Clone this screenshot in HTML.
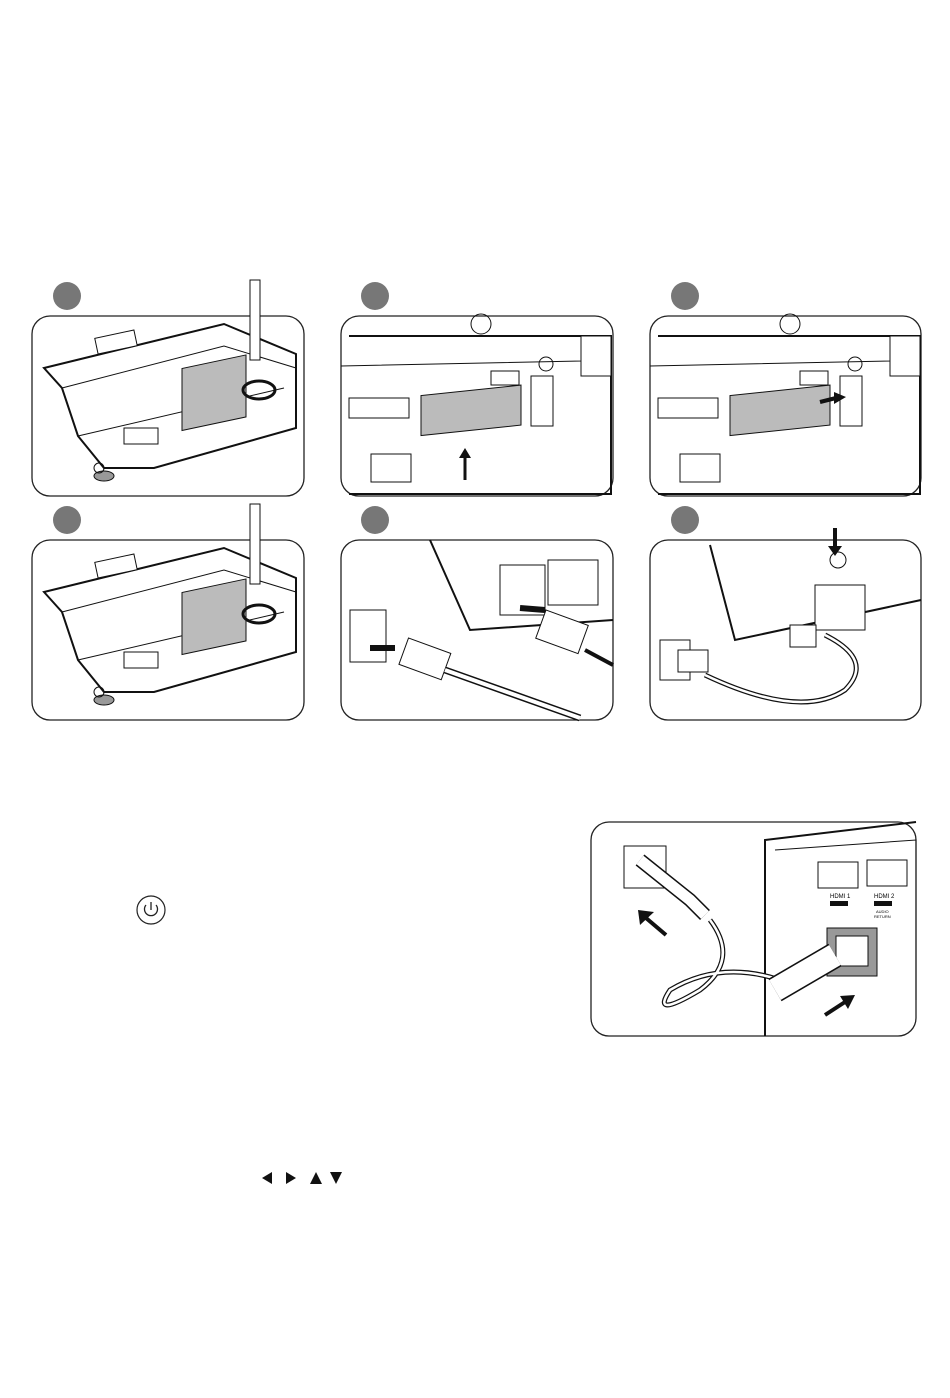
<!DOCTYPE html>
<html><head><style>body{margin:0;background:#fff}svg{display:block}</style></head><body>
<svg width="950" height="1398" viewBox="0 0 950 1398" xmlns="http://www.w3.org/2000/svg" font-family="Liberation Sans, sans-serif">
<defs>
<g id="proj1">
 <path d="M10 50 L190 6 L262 36 L262 110 L120 150 L70 150 L44 118 L28 70 Z" fill="#fff" stroke="#111" stroke-width="2"/>
 <path d="M28 70 L190 28 L262 50" fill="none" stroke="#111" stroke-width="1"/>
 <path d="M44 118 L250 70" fill="none" stroke="#111" stroke-width="1"/>
 <rect x="62" y="16" width="40" height="16" fill="#fff" stroke="#111" transform="rotate(-12 82 24)"/>
 <circle cx="200" cy="50" r="7" fill="none" stroke="#111"/>
 <rect x="90" y="110" width="34" height="16" fill="none" stroke="#111"/>
 <rect x="148" y="82" width="64" height="62" fill="#bbb" stroke="#111" transform="skewY(-12)"/>
 <ellipse cx="225" cy="72" rx="16" ry="9" fill="none" stroke="#111" stroke-width="3"/>
 <ellipse cx="70" cy="158" rx="10" ry="5" fill="#999" stroke="#111"/>
 <circle cx="65" cy="150" r="5" fill="none" stroke="#111"/>
</g>
<g id="proj2">
 <path d="M8 20 L270 20 L270 178 L8 178" fill="none" stroke="#111" stroke-width="2"/>
 <path d="M0 50 L240 45 L255 30" fill="none" stroke="#111"/>
 <rect x="8" y="82" width="60" height="20" fill="none" stroke="#111"/>
 <rect x="150" y="55" width="28" height="14" fill="none" stroke="#111"/>
 <circle cx="205" cy="48" r="7" fill="none" stroke="#111"/>
 <circle cx="140" cy="8" r="10" fill="none" stroke="#111"/>
 <rect x="80" y="88" width="100" height="40" fill="#bbb" stroke="#111" transform="skewY(-6)"/>
 <rect x="190" y="60" width="22" height="50" fill="#fff" stroke="#111"/>
 <rect x="30" y="138" width="40" height="28" fill="none" stroke="#111"/>
 <rect x="240" y="20" width="30" height="40" fill="#fff" stroke="#111"/>
</g>
</defs>

<g fill="#777"><circle cx="67" cy="296" r="14"/><circle cx="375" cy="296" r="14"/><circle cx="685" cy="296" r="14"/>
<circle cx="67" cy="520" r="14"/><circle cx="375" cy="520" r="14"/><circle cx="685" cy="520" r="14"/></g>

<g fill="#fff" stroke="#222" stroke-width="1.3">
<rect x="32" y="316" width="272" height="180" rx="18"/>
<rect x="341" y="316" width="272" height="180" rx="18"/>
<rect x="650" y="316" width="271" height="180" rx="18"/>
<rect x="32" y="540" width="272" height="180" rx="18"/>
<rect x="341" y="540" width="272" height="180" rx="18"/>
<rect x="650" y="540" width="271" height="180" rx="18"/>
<rect x="591" y="822" width="325" height="214" rx="18"/>
</g>

<use href="#proj1" x="34" y="318"/>
<use href="#proj1" x="34" y="542"/>
<rect x="250" y="280" width="10" height="80" fill="#fff" stroke="#111"/>
<rect x="250" y="504" width="10" height="80" fill="#fff" stroke="#111"/>
<use href="#proj2" x="341" y="316"/>
<use href="#proj2" x="650" y="316"/>
<path d="M465 480 L465 455" stroke="#111" stroke-width="3"/><path d="M459 458 L465 448 L471 458Z" fill="#111"/>
<path d="M820 402 L836 398" stroke="#111" stroke-width="4"/><path d="M834 392 L846 397 L834 404Z" fill="#111"/>

<!-- panel 5 -->
<path d="M430 540 L470 630 L613 620" fill="none" stroke="#111" stroke-width="2"/>
<rect x="500" y="565" width="45" height="50" fill="none" stroke="#111"/>
<rect x="548" y="560" width="50" height="45" fill="#fff" stroke="#111"/>
<rect x="350" y="610" width="36" height="52" fill="#fff" stroke="#111"/>
<rect x="540" y="616" width="45" height="30" fill="#fff" stroke="#111" transform="rotate(20 560 630)"/>
<rect x="402" y="645" width="45" height="28" fill="#fff" stroke="#111" transform="rotate(20 425 660)"/>
<path d="M445 670 L580 718" stroke="#111" stroke-width="7"/><path d="M445 670 L580 718" stroke="#fff" stroke-width="4"/>
<path d="M585 650 L613 665" stroke="#111" stroke-width="4"/>
<path d="M370 648 L395 648" stroke="#111" stroke-width="6"/>
<path d="M520 608 L545 610" stroke="#111" stroke-width="6"/>

<!-- panel 6 -->
<path d="M710 545 L735 640 L921 600" fill="none" stroke="#111" stroke-width="2"/>
<circle cx="838" cy="560" r="8" fill="none" stroke="#111"/>
<rect x="815" y="585" width="50" height="45" fill="#fff" stroke="#111"/>
<path d="M835 528 L835 548" stroke="#111" stroke-width="4"/><path d="M828 546 L835 556 L842 546Z" fill="#111"/>
<rect x="660" y="640" width="30" height="40" fill="#fff" stroke="#111"/>
<path d="M705 675 Q800 720 845 690 Q875 660 825 635" fill="none" stroke="#111" stroke-width="5"/>
<path d="M705 675 Q800 720 845 690 Q875 660 825 635" fill="none" stroke="#fff" stroke-width="2.5"/>
<rect x="678" y="650" width="30" height="22" fill="#fff" stroke="#111"/>
<rect x="790" y="625" width="26" height="22" fill="#fff" stroke="#111"/>

<!-- big panel -->
<path d="M765 1036 L765 840 L916 822" fill="none" stroke="#111" stroke-width="2"/>
<path d="M775 850 L916 840 L916 1000" fill="none" stroke="#111"/>
<rect x="818" y="862" width="40" height="26" fill="none" stroke="#111"/>
<rect x="867" y="860" width="40" height="26" fill="none" stroke="#111"/>
<text x="830" y="898" font-size="6">HDMI 1</text><text x="874" y="898" font-size="6">HDMI 2</text>
<rect x="830" y="901" width="18" height="5" fill="#111"/><rect x="874" y="901" width="18" height="5" fill="#111"/>
<text x="876" y="913" font-size="4">AUDIO</text><text x="874" y="918" font-size="4">RETURN</text>
<rect x="827" y="928" width="50" height="48" fill="#999" stroke="#111"/>
<rect x="836" y="936" width="32" height="30" fill="#fff" stroke="#111"/>
<rect x="624" y="846" width="42" height="42" fill="#fff" stroke="#111"/>
<path d="M640 860 L690 900 L705 915" stroke="#111" stroke-width="14" fill="none"/>
<path d="M640 860 L690 900 L705 915" stroke="#fff" stroke-width="11" fill="none"/>
<path d="M710 920 Q740 960 700 990 Q650 1020 670 990 Q720 960 780 980" fill="none" stroke="#111" stroke-width="5"/>
<path d="M710 920 Q740 960 700 990 Q650 1020 670 990 Q720 960 780 980" fill="none" stroke="#fff" stroke-width="2.5"/>
<path d="M775 990 L835 955" stroke="#111" stroke-width="26"/><path d="M775 990 L835 955" stroke="#fff" stroke-width="23"/>
<path d="M666 935 L646 918" stroke="#111" stroke-width="4"/><path d="M640 925 L638 910 L654 912Z" fill="#111"/>
<path d="M825 1015 L845 1002" stroke="#111" stroke-width="4"/><path d="M840 996 L855 995 L848 1009Z" fill="#111"/>

<!-- power icon -->
<circle cx="151" cy="910" r="14" fill="none" stroke="#222" stroke-width="1.2"/>
<path d="M146 905 A6.5 6.5 0 1 0 156 905" fill="none" stroke="#222" stroke-width="1.3"/>
<path d="M151 902 L151 910" stroke="#222" stroke-width="1.3"/>
<!-- arrows -->
<g fill="#111"><path d="M262 1178 L272 1172 L272 1184Z"/><path d="M296 1178 L286 1172 L286 1184Z"/>
<path d="M316 1172 L322 1184 L310 1184Z"/><path d="M336 1184 L342 1172 L330 1172Z"/></g>
</svg>
</body></html>
